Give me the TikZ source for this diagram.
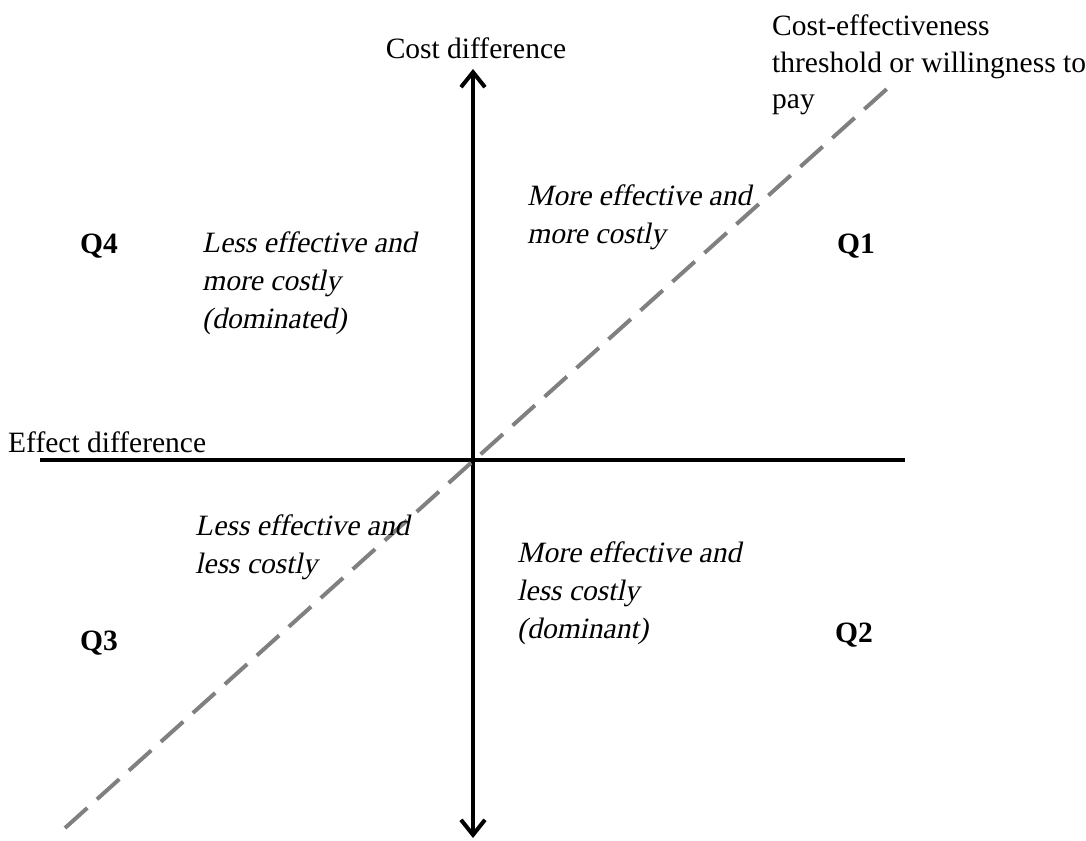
\documentclass[tikz,border=0pt]{standalone}
\usepackage{fontspec}
\setmainfont{Liberation Serif}[ItalicFont={Liberation Serif},ItalicFeatures={FakeSlant=0.21},BoldFont={Liberation Serif Bold}]
\usetikzlibrary{arrows.meta}

\begin{document}
\begin{tikzpicture}[x=1pt,y=-1pt,
	every node/.style={font=\fontsize{29.5}{38}\selectfont, inner sep=0pt},
	quadlabel/.style={font=\fontsize{29.5}{38}\selectfont\bfseries, anchor=base west},
	region/.style={font=\fontsize{29.5}{38}\selectfont\itshape, align=left, anchor=north west},
	axis/.style={line width=4pt},
	axtip/.tip={Straight Barb[length=15pt,width=24pt,line width=4pt]}]
	\definecolor{threshgray}{RGB}{128,128,128}
	\useasboundingbox (0,0) rectangle (1086,840);

	% axes
	\coordinate (ytop) at (473,69);
	\coordinate (ybot) at (473,838);
	\coordinate (xleft) at (40,460);
	\coordinate (xright) at (905,460);
	\draw[axis,axtip-axtip] (ybot) -- (ytop);
	\draw[axis] (xleft) -- (xright);

	% threshold line
	\coordinate (wtplow) at (65,828);
	\coordinate (wtphigh) at (889,87);
	\draw[threshgray,line width=4pt,dash pattern=on 30pt off 13pt] (wtplow) -- (wtphigh);

	% axis labels
	\node[anchor=base] (costlab) at (476,59) {Cost difference};
	\node[anchor=base west] (efflab) at (8,452) {Effect difference};
	\node[anchor=north west,align=left,font=\fontsize{29.5}{36.5}\selectfont] (wtplab) at (772,15) {Cost-effectiveness\\threshold or willingness to\\pay};

	% quadrants
	\node[quadlabel] (q1) at (837,253) {Q1};
	\node[quadlabel] (q2) at (835,642) {Q2};
	\node[quadlabel] (q3) at (80,650) {Q3};
	\node[quadlabel] (q4) at (80,253) {Q4};

	\node[region] (moremore) at (527,185) {More effective and\\more costly};
	\node[region] (lessmore) at (202,232) {Less effective and\\more costly\\(dominated)};
	\node[region] (lessless) at (195,515) {Less effective and\\less costly};
	\node[region] (moreless) at (517,542) {More effective and\\less costly\\(dominant)};
\end{tikzpicture}
\end{document}
